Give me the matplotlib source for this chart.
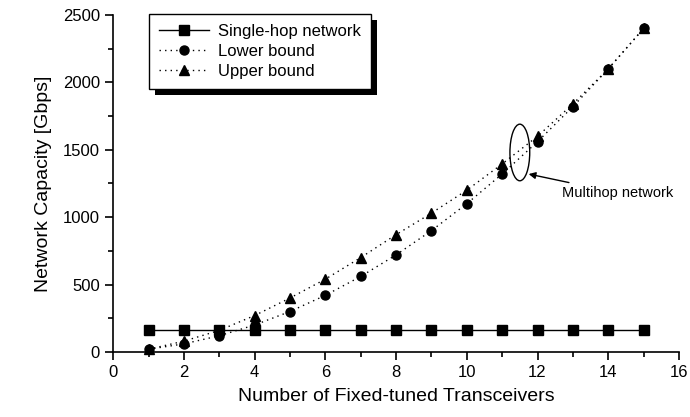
import numpy as np
import matplotlib
matplotlib.use("Agg")
import matplotlib.pyplot as plt
from matplotlib.patches import Ellipse, Rectangle
from matplotlib.ticker import MultipleLocator

plt.rcParams['font.family'] = ['Liberation Sans', 'DejaVu Sans']

transceivers = [1, 2, 3, 4, 5, 6, 7, 8, 9, 10, 11, 12, 13, 14, 15]
single_hop = [160] * 15
lower_bound = [20, 60, 120, 200, 300, 420, 560, 720, 900, 1100, 1320, 1560, 1820, 2100, 2400]
upper_bound = [20, 80, 160, 270, 400, 540, 700, 870, 1030, 1200, 1395, 1600, 1840, 2100, 2400]

fig = plt.figure(figsize=(6.9, 4.17), dpi=100)
ax = fig.add_axes([0.164, 0.156, 0.820, 0.808])

ax.plot(transceivers, single_hop, '-', color='black', lw=1.0,
        marker='s', ms=6.5, label='Single-hop network')
ax.plot(transceivers, lower_bound, linestyle=(0, (1, 3)), color='black', lw=1.0,
        marker='o', ms=6.5, label='Lower bound')
ax.plot(transceivers, upper_bound, linestyle=(0, (1, 3)), color='black', lw=1.0,
        marker='^', ms=7.5, label='Upper bound')

ax.set_xlim(0, 16)
ax.set_ylim(0, 2500)
ax.xaxis.set_major_locator(MultipleLocator(2))
ax.xaxis.set_minor_locator(MultipleLocator(1))
ax.yaxis.set_major_locator(MultipleLocator(500))
ax.yaxis.set_minor_locator(MultipleLocator(250))
ax.spines['top'].set_visible(False)
ax.spines['right'].set_visible(False)
for s in ['left', 'bottom']:
    ax.spines[s].set_linewidth(1.2)
ax.tick_params(which='major', direction='out', length=6, width=1.2, labelsize=12)
ax.tick_params(which='minor', direction='out', length=3.5, width=1.2)
for line in ax.lines:
    line.set_clip_on(False)

ax.set_xlabel('Number of Fixed-tuned Transceivers', fontsize=14, labelpad=6)
ax.set_ylabel('Network Capacity [Gbps]', fontsize=14, labelpad=8)

# multihop annotation
ax.add_patch(Ellipse((11.5, 1480), 0.56, 420, fill=False, edgecolor='black', lw=1.0))
ax.annotate('Multihop network', xy=(11.75, 1320), xytext=(12.7, 1180),
            fontsize=10.5, va='center', ha='left',
            arrowprops=dict(arrowstyle='-|>', color='black', lw=1.0,
                            shrinkA=2, shrinkB=0, mutation_scale=10))

leg = ax.legend(loc='upper left', bbox_to_anchor=(0.064, 1.003), borderaxespad=0,
                fontsize=12, fancybox=False, edgecolor='black', framealpha=1,
                handlelength=3.0, handletextpad=0.5, labelspacing=0.3,
                borderpad=0.6)
leg.get_frame().set_linewidth(1.0)
leg.set_zorder(6)

# solid shadow behind the legend box
fig.canvas.draw()
bb = leg.get_frame().get_window_extent()
shadow = Rectangle((bb.x0 + 6, bb.y0 - 6), bb.width, bb.height,
                   transform=None, facecolor='black', edgecolor='none', zorder=5.5)
ax.add_patch(shadow)

fig.savefig('out.png', dpi=100)
